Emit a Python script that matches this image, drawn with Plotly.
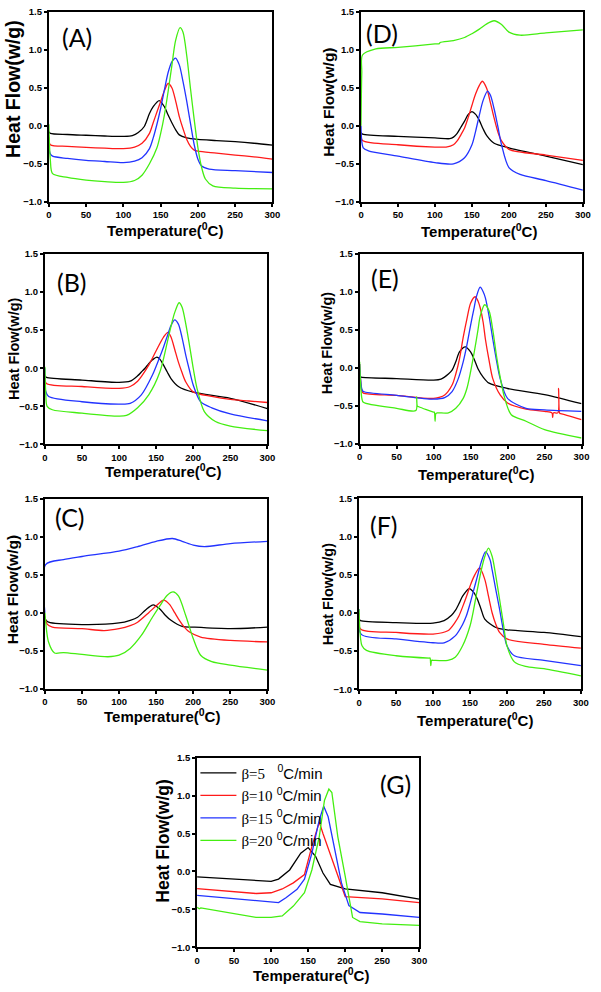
import plotly.graph_objects as go

W, H = 601, 992

# ---------------- data ----------------
series_names = ["β=5", "β=10", "β=15", "β=20"]
x_ticks = [0, 50, 100, 150, 200, 250, 300]
y_ticks = [-1.0, -0.5, 0.0, 0.5, 1.0, 1.5]

# Panel A
a_k_t = [0, 2, 25, 50, 75, 100, 112, 120, 128, 135, 140, 148, 155, 160, 165, 170, 175, 185, 200, 225, 250, 275, 300]
a_k_hf = [-0.08, -0.10, -0.115, -0.125, -0.135, -0.14, -0.13, -0.09, -0.01, 0.16, 0.25, 0.33, 0.25, 0.14, 0.04, -0.05, -0.12, -0.16, -0.18, -0.195, -0.21, -0.23, -0.255]
a_r_t = [0, 2, 25, 50, 75, 100, 115, 125, 135, 140, 145, 150, 155, 160, 165, 170, 175, 180, 185, 190, 195, 200, 225, 250, 275, 300]
a_r_hf = [-0.15, -0.25, -0.27, -0.285, -0.295, -0.30, -0.28, -0.23, -0.10, 0.04, 0.18, 0.32, 0.46, 0.555, 0.50, 0.33, 0.12, -0.04, -0.18, -0.27, -0.32, -0.335, -0.36, -0.385, -0.41, -0.44]
a_b_t = [0, 2, 5, 25, 50, 75, 100, 115, 125, 135, 140, 145, 150, 155, 160, 165, 170, 175, 180, 185, 190, 195, 200, 205, 215, 250, 300]
a_b_hf = [-0.28, -0.37, -0.40, -0.43, -0.455, -0.47, -0.485, -0.465, -0.42, -0.30, -0.16, 0.02, 0.23, 0.47, 0.70, 0.84, 0.89, 0.80, 0.58, 0.32, 0.03, -0.25, -0.44, -0.53, -0.57, -0.59, -0.615]
a_g_t = [0, 2, 5, 25, 50, 75, 100, 115, 125, 135, 145, 150, 155, 160, 165, 170, 176, 180, 185, 190, 195, 200, 205, 210, 220, 250, 300]
a_g_hf = [0.02, -0.45, -0.63, -0.68, -0.715, -0.735, -0.745, -0.72, -0.65, -0.50, -0.29, -0.10, 0.14, 0.45, 0.79, 1.12, 1.29, 1.23, 0.92, 0.49, 0.08, -0.29, -0.55, -0.70, -0.79, -0.82, -0.83]

# Panel B
b_k_t = [0, 2, 50, 100, 115, 125, 130, 135, 140, 145, 151, 155, 160, 165, 170, 180, 200, 250, 300]
b_k_hf = [-0.10, -0.12, -0.155, -0.186, -0.17, -0.10, -0.05, 0.0, 0.06, 0.11, 0.147, 0.12, 0.04, -0.05, -0.135, -0.24, -0.315, -0.395, -0.53]
b_r_t = [0, 2, 50, 100, 115, 125, 130, 140, 150, 160, 166, 170, 175, 180, 185, 190, 200, 225, 250, 275, 300]
b_r_hf = [-0.10, -0.20, -0.24, -0.265, -0.24, -0.17, -0.11, 0.04, 0.23, 0.41, 0.47, 0.41, 0.25, 0.08, -0.06, -0.18, -0.31, -0.37, -0.41, -0.43, -0.45]
b_b_t = [0, 1, 5, 50, 100, 115, 130, 145, 155, 160, 165, 170, 175, 180, 185, 190, 195, 200, 210, 225, 250, 300]
b_b_hf = [0.0, -0.30, -0.37, -0.44, -0.47, -0.46, -0.35, -0.09, 0.15, 0.28, 0.42, 0.56, 0.635, 0.58, 0.40, 0.17, -0.03, -0.22, -0.44, -0.52, -0.60, -0.69]
b_g_t = [0, 1, 3, 10, 50, 100, 110, 125, 140, 155, 165, 170, 175, 181, 185, 190, 195, 200, 205, 215, 230, 250, 300]
b_g_hf = [0.02, -0.30, -0.50, -0.545, -0.59, -0.63, -0.62, -0.52, -0.35, -0.05, 0.34, 0.55, 0.73, 0.86, 0.80, 0.58, 0.30, 0.0, -0.26, -0.57, -0.70, -0.76, -0.82]

# Panel C
c_k_t = [0, 5, 50, 100, 115, 125, 135, 140, 146, 155, 162, 170, 185, 200, 250, 300]
c_k_hf = [-0.08, -0.125, -0.156, -0.135, -0.10, -0.06, 0.03, 0.07, 0.104, 0.05, -0.03, -0.10, -0.18, -0.19, -0.21, -0.19]
c_r_t = [0, 3, 10, 50, 80, 100, 115, 125, 140, 150, 160, 168, 175, 180, 188, 195, 210, 250, 300]
c_r_hf = [-0.05, -0.15, -0.19, -0.21, -0.235, -0.21, -0.17, -0.125, 0.0, 0.09, 0.165, 0.11, 0.0, -0.08, -0.19, -0.255, -0.32, -0.365, -0.385]
c_b_t = [0, 1, 25, 50, 100, 125, 150, 172, 185, 200, 215, 250, 300]
c_b_hf = [0.0, 0.634, 0.70, 0.74, 0.81, 0.87, 0.94, 0.977, 0.94, 0.89, 0.87, 0.91, 0.94]
c_g_t = [0, 5, 13, 25, 50, 85, 100, 115, 130, 145, 155, 165, 173, 180, 190, 200, 210, 225, 250, 300]
c_g_hf = [0.0, -0.39, -0.53, -0.525, -0.55, -0.58, -0.56, -0.47, -0.30, -0.06, 0.09, 0.23, 0.273, 0.22, -0.04, -0.34, -0.56, -0.645, -0.69, -0.755]

# Panel D
d_k_t = [0, 2, 50, 100, 120, 125, 130, 135, 140, 145, 150, 155, 160, 165, 170, 180, 200, 250, 300]
d_k_hf = [-0.09, -0.11, -0.14, -0.16, -0.17, -0.15, -0.10, -0.02, 0.06, 0.15, 0.186, 0.15, 0.07, -0.04, -0.13, -0.23, -0.29, -0.40, -0.51]
d_r_t = [0, 2, 50, 100, 115, 125, 130, 135, 140, 145, 150, 155, 160, 164, 170, 175, 180, 185, 190, 200, 250, 300]
d_r_hf = [-0.10, -0.195, -0.25, -0.28, -0.28, -0.25, -0.20, -0.12, -0.03, 0.11, 0.27, 0.42, 0.53, 0.585, 0.49, 0.30, 0.10, -0.08, -0.20, -0.31, -0.385, -0.455]
d_b_t = [0, 3, 10, 50, 100, 125, 140, 150, 155, 160, 165, 171, 175, 180, 185, 190, 200, 215, 250, 300]
d_b_hf = [0.0, -0.29, -0.33, -0.40, -0.485, -0.50, -0.42, -0.25, -0.07, 0.14, 0.33, 0.455, 0.40, 0.22, -0.01, -0.25, -0.55, -0.64, -0.72, -0.845]
d_g_t = [0, 1, 2, 20, 50, 100, 106, 107, 125, 140, 150, 160, 170, 180, 190, 200, 215, 250, 300]
d_g_hf = [0.0, 0.70, 0.93, 1.01, 1.03, 1.075, 1.08, 1.095, 1.12, 1.16, 1.21, 1.27, 1.34, 1.38, 1.33, 1.23, 1.19, 1.22, 1.26]

# Panel E
e_k_t = [0, 2, 50, 100, 110, 120, 125, 130, 135, 143, 150, 155, 160, 167, 175, 200, 250, 300]
e_k_hf = [-0.11, -0.12, -0.14, -0.16, -0.147, -0.08, -0.03, 0.08, 0.21, 0.277, 0.21, 0.11, -0.01, -0.12, -0.20, -0.27, -0.35, -0.47]
e_r_t = [0, 3, 5, 50, 100, 115, 125, 130, 135, 140, 145, 150, 156, 160, 163, 167, 170, 175, 180, 190, 200, 225, 250, 260, 261, 262, 268, 269, 270, 271, 272, 300]
e_r_hf = [0.05, -0.30, -0.33, -0.36, -0.40, -0.355, -0.225, -0.08, 0.12, 0.40, 0.64, 0.85, 0.935, 0.88, 0.79, 0.60, 0.38, 0.10, -0.14, -0.355, -0.46, -0.54, -0.57, -0.59, -0.65, -0.59, -0.59, -0.27, -0.58, -0.60, -0.60, -0.68]
e_b_t = [0, 3, 5, 50, 100, 115, 125, 133, 140, 145, 150, 155, 158, 163, 167, 170, 175, 180, 185, 190, 200, 225, 250, 300]
e_b_hf = [0.05, -0.28, -0.31, -0.36, -0.41, -0.39, -0.31, -0.15, 0.08, 0.30, 0.56, 0.80, 0.94, 1.06, 1.00, 0.92, 0.68, 0.38, 0.10, -0.14, -0.40, -0.53, -0.55, -0.57]
e_g_t = [0, 3, 5, 50, 76, 77, 78, 80, 100, 101, 102, 103, 105, 120, 130, 140, 145, 150, 155, 160, 163, 169, 175, 180, 185, 190, 195, 205, 225, 250, 300]
e_g_hf = [0.08, -0.40, -0.45, -0.53, -0.56, -0.38, -0.50, -0.51, -0.58, -0.58, -0.70, -0.60, -0.59, -0.59, -0.53, -0.40, -0.27, -0.05, 0.21, 0.50, 0.68, 0.83, 0.75, 0.50, 0.16, -0.12, -0.355, -0.615, -0.70, -0.81, -0.92]

# Panel F
f_k_t = [0, 2, 50, 100, 115, 125, 130, 135, 140, 149, 155, 160, 165, 170, 185, 200, 250, 300]
f_k_hf = [-0.08, -0.10, -0.125, -0.134, -0.10, -0.03, 0.03, 0.12, 0.22, 0.32, 0.27, 0.18, 0.05, -0.08, -0.19, -0.22, -0.255, -0.31]
f_r_t = [0, 2, 50, 100, 120, 130, 135, 140, 145, 150, 155, 163, 170, 175, 180, 185, 190, 200, 250, 300]
f_r_hf = [0.0, -0.21, -0.255, -0.276, -0.233, -0.12, -0.04, 0.08, 0.21, 0.35, 0.47, 0.59, 0.44, 0.22, 0.00, -0.15, -0.255, -0.34, -0.41, -0.46]
f_b_t = [0, 3, 50, 100, 115, 130, 140, 145, 150, 155, 160, 165, 171, 177, 180, 185, 190, 195, 200, 210, 250, 300]
f_b_hf = [0.05, -0.28, -0.34, -0.39, -0.39, -0.30, -0.15, -0.04, 0.12, 0.30, 0.48, 0.66, 0.80, 0.70, 0.56, 0.30, 0.05, -0.22, -0.43, -0.56, -0.62, -0.69]
f_g_t = [0, 4, 10, 50, 95, 96, 97, 98, 100, 120, 130, 140, 150, 155, 160, 165, 170, 175, 180, 185, 190, 195, 200, 210, 225, 250, 300]
f_g_hf = [0.05, -0.43, -0.49, -0.56, -0.59, -0.59, -0.69, -0.62, -0.62, -0.62, -0.58, -0.43, -0.17, 0.05, 0.31, 0.55, 0.74, 0.85, 0.74, 0.48, 0.18, -0.13, -0.43, -0.64, -0.70, -0.73, -0.825]

# Panel G
g_k_t = [0, 100, 110, 125, 140, 150, 160, 170, 180, 200, 250, 300]
g_k_hf = [-0.07, -0.13, -0.10, 0.02, 0.24, 0.315, 0.20, -0.02, -0.17, -0.23, -0.28, -0.365]
g_r_t = [0, 80, 100, 115, 130, 145, 155, 165, 170, 180, 190, 200, 250, 300]
g_r_hf = [-0.225, -0.29, -0.28, -0.23, -0.15, -0.04, 0.33, 0.65, 0.50, 0.22, -0.06, -0.33, -0.36, -0.41]
g_b_t = [0, 100, 110, 120, 135, 145, 155, 165, 171, 177, 185, 195, 205, 220, 250, 300]
g_b_hf = [-0.315, -0.40, -0.41, -0.345, -0.235, -0.10, 0.24, 0.68, 0.86, 0.72, 0.33, -0.15, -0.45, -0.54, -0.56, -0.605]
g_g_t = [0, 3, 5, 80, 100, 115, 130, 145, 155, 165, 172, 178, 182, 190, 200, 210, 220, 250, 300]
g_g_hf = [-0.47, -0.49, -0.48, -0.605, -0.605, -0.585, -0.455, -0.28, 0.02, 0.46, 0.935, 1.085, 1.04, 0.46, -0.06, -0.605, -0.66, -0.69, -0.71]

# ---------------- styling / layout ----------------
colors = ["#000000", "#ff1a1a", "#2233ff", "#44ee11"]
SANS = "Liberation Sans"

# panel: label, data, plot box in px (left, right, top, bottom), y-title (cx, cy, size),
# x-title (cx, cy), panel label centre, line shape
panels = [
    ("(A)", [(a_k_t, a_k_hf), (a_r_t, a_r_hf), (a_b_t, a_b_hf), (a_g_t, a_g_hf)],
     (46.7, 274.5, 5.7, 198.0), (10, 84, 19.5), (165, 226), (75, 31), "spline"),
    ("(D)", [(d_k_t, d_k_hf), (d_r_t, d_r_hf), (d_b_t, d_b_hf), (d_g_t, d_g_hf)],
     (364.7, 590.7, 5.7, 198.0), (332, 97, 15.5), (485, 227), (386, 27), "spline"),
    ("(B)", [(b_k_t, b_k_hf), (b_r_t, b_r_hf), (b_b_t, b_b_hf), (b_g_t, b_g_hf)],
     (42.7, 269.3, 250.8, 443.3), (11, 347, 14.5), (163, 470), (70, 279), "spline"),
    ("(E)", [(e_k_t, e_k_hf), (e_r_t, e_r_hf), (e_b_t, e_b_hf), (e_g_t, e_g_hf)],
     (363.3, 589.3, 250.5, 443.0), (330, 341, 14.5), (482, 473), (389, 275), "spline"),
    ("(C)", [(c_k_t, c_k_hf), (c_r_t, c_r_hf), (c_b_t, c_b_hf), (c_g_t, c_g_hf)],
     (42.7, 269.3, 498.3, 690.3), (10, 590, 15.5), (162, 717), (68, 517), "spline"),
    ("(F)", [(f_k_t, f_k_hf), (f_r_t, f_r_hf), (f_b_t, f_b_hf), (f_g_t, f_g_hf)],
     (362.7, 588.7, 498.0, 691.0), (331, 595, 14.5), (481, 721), (388, 525), "spline"),
    ("(G)", [(g_k_t, g_k_hf), (g_r_t, g_r_hf), (g_b_t, g_b_hf), (g_g_t, g_g_hf)],
     (197.7, 424.0, 760.0, 952.0), (163, 845, 17.5), (314, 979), (400, 787), "linear"),
]

legend_names = [
    '<span style="font-family:Liberation Serif">' + series_names[0] + '</span>\u00a0\u00a0\u00a0<sup>0</sup>C/min',
    '<span style="font-family:Liberation Serif">' + series_names[1] + '</span>\u00a0<sup>0</sup>C/min',
    '<span style="font-family:Liberation Serif">' + series_names[2] + '</span>\u00a0<sup>0</sup>C/min',
    '<span style="font-family:Liberation Serif">' + series_names[3] + '</span>\u00a0<sup>0</sup>C/min',
]

fig = go.Figure()
layout = dict(
    width=W, height=H, margin=dict(l=0, r=0, t=0, b=0),
    paper_bgcolor="white", plot_bgcolor="white",
    annotations=[],
    legend=dict(x=196 / W, y=1 - 759 / H, xanchor="left", yanchor="top",
                bgcolor="rgba(0,0,0,0)", itemwidth=36, tracegroupgap=0,
                font=dict(family=SANS, size=15, color="black")),
)

tickfont = dict(family=SANS, size=9.5, color="black", weight="bold")

for i, (label, data, box, ytit, xtit, lab, shape) in enumerate(panels):
    n = "" if i == 0 else str(i + 1)
    l, r, t, b = box
    xa = dict(domain=[l / W, r / W], range=[0, 300], tickvals=x_ticks,
              showline=True, mirror=True, linewidth=2, linecolor="black",
              ticks="outside", ticklen=3, tickwidth=1.5, tickcolor="black",
              showgrid=False, zeroline=False, tickfont=tickfont,
              anchor="y" + n, fixedrange=True)
    ya = dict(domain=[1 - b / H, 1 - t / H], range=[-1.0, 1.5], tickvals=y_ticks,
              tickformat=".1f",
              showline=True, mirror=True, linewidth=2, linecolor="black",
              ticks="outside", ticklen=3, tickwidth=1.5, tickcolor="black",
              showgrid=False, zeroline=False, tickfont=tickfont,
              anchor="x" + n, fixedrange=True)
    layout["xaxis" + n] = xa
    layout["yaxis" + n] = ya
    is_g = label == "(G)"
    for j, (tt, hf) in enumerate(data):
        fig.add_trace(go.Scatter(
            x=tt, y=hf, mode="lines", xaxis="x" + n, yaxis="y" + n,
            line=dict(color=colors[j], width=1.3, shape=shape, smoothing=0.8 if shape == "spline" else None),
            name=legend_names[j], showlegend=is_g, hoverinfo="skip"))
    # y title
    cx, cy, fs = ytit
    layout["annotations"].append(dict(
        text="Heat Flow(w/g)", x=cx / W, y=1 - cy / H, xref="paper", yref="paper",
        showarrow=False, textangle=-90, xanchor="center", yanchor="middle",
        font=dict(family=SANS, size=fs, color="black", weight="bold")))
    # x title
    layout["annotations"].append(dict(
        text="Temperature(<sup>0</sup>C)", x=xtit[0] / W, y=1 - xtit[1] / H,
        xref="paper", yref="paper", showarrow=False, xanchor="center", yanchor="middle",
        font=dict(family=SANS, size=15, color="black", weight="bold")))
    # panel label
    layout["annotations"].append(dict(
        text=label, x=lab[0] / W, y=1 - lab[1] / H, xref="paper", yref="paper",
        showarrow=False, xanchor="center", yanchor="middle",
        font=dict(family="Lato", size=25, color="black")))

fig.update_layout(**layout)
fig.write_html("out.html")
